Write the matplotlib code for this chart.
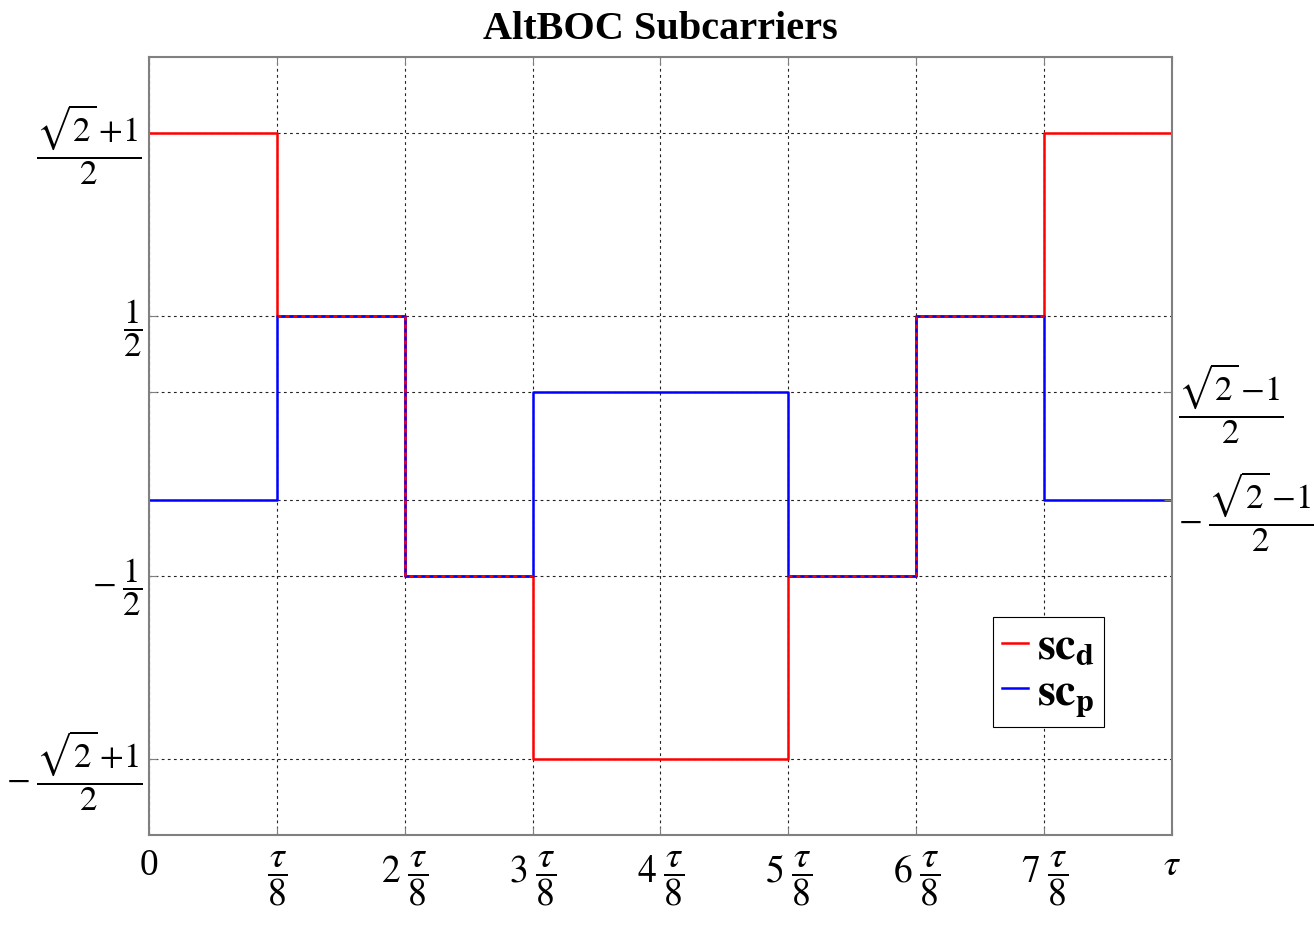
import matplotlib
matplotlib.use("Agg")
import matplotlib.pyplot as plt
import numpy as np

# subcarrier levels per tau/8 slot (last value repeated to close the step)
slot_edges = [0, 1, 2, 3, 4, 5, 6, 7, 8]
sc_d = [1.2071, 0.5, -0.5, -1.2071, -1.2071, -0.5, 0.5, 1.2071, 1.2071]
sc_p = [-0.2071, 0.5, -0.5, 0.2071, 0.2071, -0.5, 0.5, -0.2071, -0.2071]

x_tick_labels = ["0", r"$\dfrac{\tau}{8}$", r"$2\;\dfrac{\tau}{8}$", r"$3\;\dfrac{\tau}{8}$",
                 r"$4\;\dfrac{\tau}{8}$", r"$5\;\dfrac{\tau}{8}$", r"$6\;\dfrac{\tau}{8}$",
                 r"$7\;\dfrac{\tau}{8}$", r"$\tau$"]
left_ticks = [-1.2071, -0.5, -0.2071, 0.2071, 0.5, 1.2071]
left_labels = [r"${-}\;\dfrac{\sqrt{2}\,{+}1}{2}$", r"${-}\;\dfrac{1}{2}$", "", "",
               r"$\dfrac{1}{2}$", r"$\dfrac{\sqrt{2}\,{+}1}{2}$"]
right_ticks = [-0.2071, 0.2071]
right_labels = [r"${-}\;\dfrac{\sqrt{2}\,{-}1}{2}$", r"$\dfrac{\sqrt{2}\,{-}1}{2}$"]

plt.rcParams["font.family"] = ["Liberation Serif", "DejaVu Serif"]
plt.rcParams["mathtext.fontset"] = "stix"

fig = plt.figure(figsize=(13.14, 9.31), dpi=100)
ax = fig.add_axes([0.1134, 0.1031, 0.7785, 0.8357])

ax.step(slot_edges, sc_d, where="post", color="red", linewidth=1.8, label=r"$\mathbf{sc}_\mathbf{d}$")
ax.step(slot_edges, sc_p, where="post", color="blue", linewidth=1.8, label=r"$\mathbf{sc}_\mathbf{p}$")

# where both coincide, dash red over blue
sc_d_arr = np.array(sc_d)
sc_p_arr = np.array(sc_p)
both = np.where(np.isclose(sc_d_arr, sc_p_arr), sc_d_arr, np.nan)
ax.step(slot_edges, both, where="post", color="red", linewidth=1.8, linestyle=(0, (1.6, 1.6)))

ax.set_xlim(0, 8)
ax.set_ylim(-1.5, 1.5)
ax.set_xticks(slot_edges)
ax.set_xticklabels(x_tick_labels, fontsize=27)
ax.set_yticks(left_ticks)
ax.set_yticklabels(left_labels, fontsize=25)
ax.grid(True, color="#222222", linestyle=(0, (2.5, 3)), linewidth=0.8)

ax.tick_params(axis="x", direction="in", top=True, length=6, color="#808080", pad=10)
ax.tick_params(axis="y", direction="in", right=True, length=6, color="#808080", pad=5)
for sp in ax.spines.values():
    sp.set_color("#808080")
    sp.set_linewidth(1.5)

ax2 = ax.twinx()
ax2.set_ylim(ax.get_ylim())
ax2.set_yticks(right_ticks)
ax2.set_yticklabels(right_labels, fontsize=25)
ax2.tick_params(axis="y", direction="in", length=6, color="#808080", pad=4)
for sp in ax2.spines.values():
    sp.set_visible(False)

ax.set_title("AltBOC Subcarriers", fontsize=29, fontweight="bold", pad=13)

leg = ax.legend(loc="lower right", bbox_to_anchor=(0.9335, 0.139), borderaxespad=0, fontsize=33,
                handlelength=0.55, handletextpad=0.2, borderpad=0.2, labelspacing=0.05,
                fancybox=False, framealpha=1, edgecolor="black")
leg.get_frame().set_linewidth(0.8)

fig.savefig("out.png", dpi=100)
